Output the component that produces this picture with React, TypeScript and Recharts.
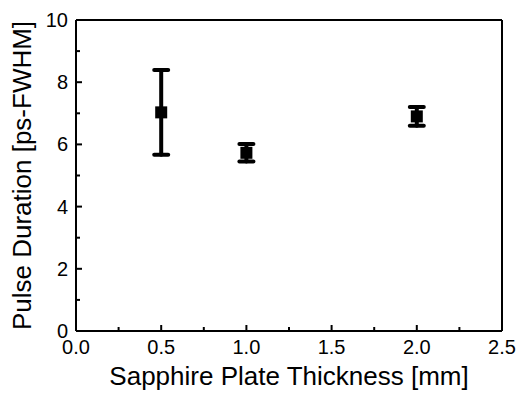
import React from 'react';
import { ScatterChart, Scatter, XAxis, YAxis, ErrorBar } from 'recharts';

// values
const thickness = [0.5, 1.0, 2.0];
const duration = [7.03, 5.73, 6.9];
const durationErr = [1.36, 0.28, 0.3];

const xTicks = [0, 0.25, 0.5, 0.75, 1.0, 1.25, 1.5, 1.75, 2.0, 2.25, 2.5];
const yTicks = [0, 1, 2, 3, 4, 5, 6, 7, 8, 9, 10];

const FONT = '"Liberation Sans", Arial, sans-serif';

const data = thickness.map((t, i) => ({ x: t, y: duration[i], err: durationErr[i] }));

const isMajorX = (v: number) => Math.abs(v * 2 - Math.round(v * 2)) < 1e-6;
const isMajorY = (v: number) => v % 2 === 0;

// ticks point inward, labels only on the major ones
function BottomTick(props: any) {
  const { x, y, payload } = props;
  const major = isMajorX(payload.value);
  return (
    <g>
      <line x1={x} y1={y} x2={x} y2={y - (major ? 6 : 4)} stroke="#000" strokeWidth={2} />
      {major && (
        <text x={x} y={y + 23} textAnchor="middle" fontSize={20} fontFamily={FONT} fill="#000">
          {payload.value.toFixed(1)}
        </text>
      )}
    </g>
  );
}

function TopTick(props: any) {
  const { x, y, payload } = props;
  const major = isMajorX(payload.value);
  return <line x1={x} y1={y} x2={x} y2={y + (major ? 6 : 4)} stroke="#000" strokeWidth={2} />;
}

function LeftTick(props: any) {
  const { x, y, payload } = props;
  const major = isMajorY(payload.value);
  return (
    <g>
      <line x1={x} y1={y} x2={x + (major ? 6 : 4)} y2={y} stroke="#000" strokeWidth={2} />
      {major && (
        <text x={x - 8} y={y + 7} textAnchor="end" fontSize={20} fontFamily={FONT} fill="#000">
          {payload.value}
        </text>
      )}
    </g>
  );
}

function RightTick(props: any) {
  const { x, y, payload } = props;
  const major = isMajorY(payload.value);
  return <line x1={x} y1={y} x2={x - (major ? 6 : 4)} y2={y} stroke="#000" strokeWidth={2} />;
}

function YTitle(props: any) {
  const { viewBox } = props;
  const cx = viewBox.x + 31;
  const cy = viewBox.y + viewBox.height / 2;
  return (
    <text
      x={cx}
      y={cy}
      transform={`rotate(-90 ${cx} ${cy})`}
      textAnchor="middle"
      fontSize={26}
      fontFamily={FONT}
      fill="#000"
    >
      Pulse Duration [ps-FWHM]
    </text>
  );
}

const SquareDot = (p: any) => <rect x={p.cx - 6} y={p.cy - 6} width={12} height={12} fill="#000" />;

export default function App() {
  return (
    <div style={{ position: 'absolute', left: 0, top: 0, background: '#fff' }}>
      <ScatterChart width={521} height={393} margin={{ top: 0, right: 0, bottom: 0, left: 0 }}>
        <XAxis
          xAxisId="bottom"
          type="number"
          dataKey="x"
          domain={[0, 2.5]}
          ticks={xTicks}
          height={62}
          tickSize={0}
          tickMargin={0}
          tickLine={false}
          tick={<BottomTick />}
          axisLine={{ stroke: '#000', strokeWidth: 2 }}
          label={{
            value: 'Sapphire Plate Thickness [mm]',
            position: 'insideBottom',
            offset: 8,
            fontSize: 26,
            fontFamily: FONT,
            fill: '#000',
          }}
        />
        <XAxis
          xAxisId="top"
          orientation="top"
          type="number"
          dataKey="x"
          domain={[0, 2.5]}
          ticks={xTicks}
          height={20}
          tickSize={0}
          tickMargin={0}
          tickLine={false}
          tick={<TopTick />}
          axisLine={{ stroke: '#000', strokeWidth: 2 }}
        />
        <YAxis
          yAxisId="left"
          type="number"
          dataKey="y"
          domain={[0, 10]}
          ticks={yTicks}
          width={76}
          tickSize={0}
          tickMargin={0}
          tickLine={false}
          tick={<LeftTick />}
          axisLine={{ stroke: '#000', strokeWidth: 2 }}
          label={<YTitle />}
        />
        <YAxis
          yAxisId="right"
          orientation="right"
          type="number"
          dataKey="y"
          domain={[0, 10]}
          ticks={yTicks}
          width={19}
          tickSize={0}
          tickMargin={0}
          tickLine={false}
          tick={<RightTick />}
          axisLine={{ stroke: '#000', strokeWidth: 2 }}
        />
        <Scatter
          data={data}
          xAxisId="bottom"
          yAxisId="left"
          fill="#000"
          shape={SquareDot}
          isAnimationActive={false}
        >
          <ErrorBar
            dataKey="err"
            direction="y"
            width={7}
            stroke="#000"
            strokeWidth={4}
            strokeLinecap="round"
          />
        </Scatter>
      </ScatterChart>
    </div>
  );
}
